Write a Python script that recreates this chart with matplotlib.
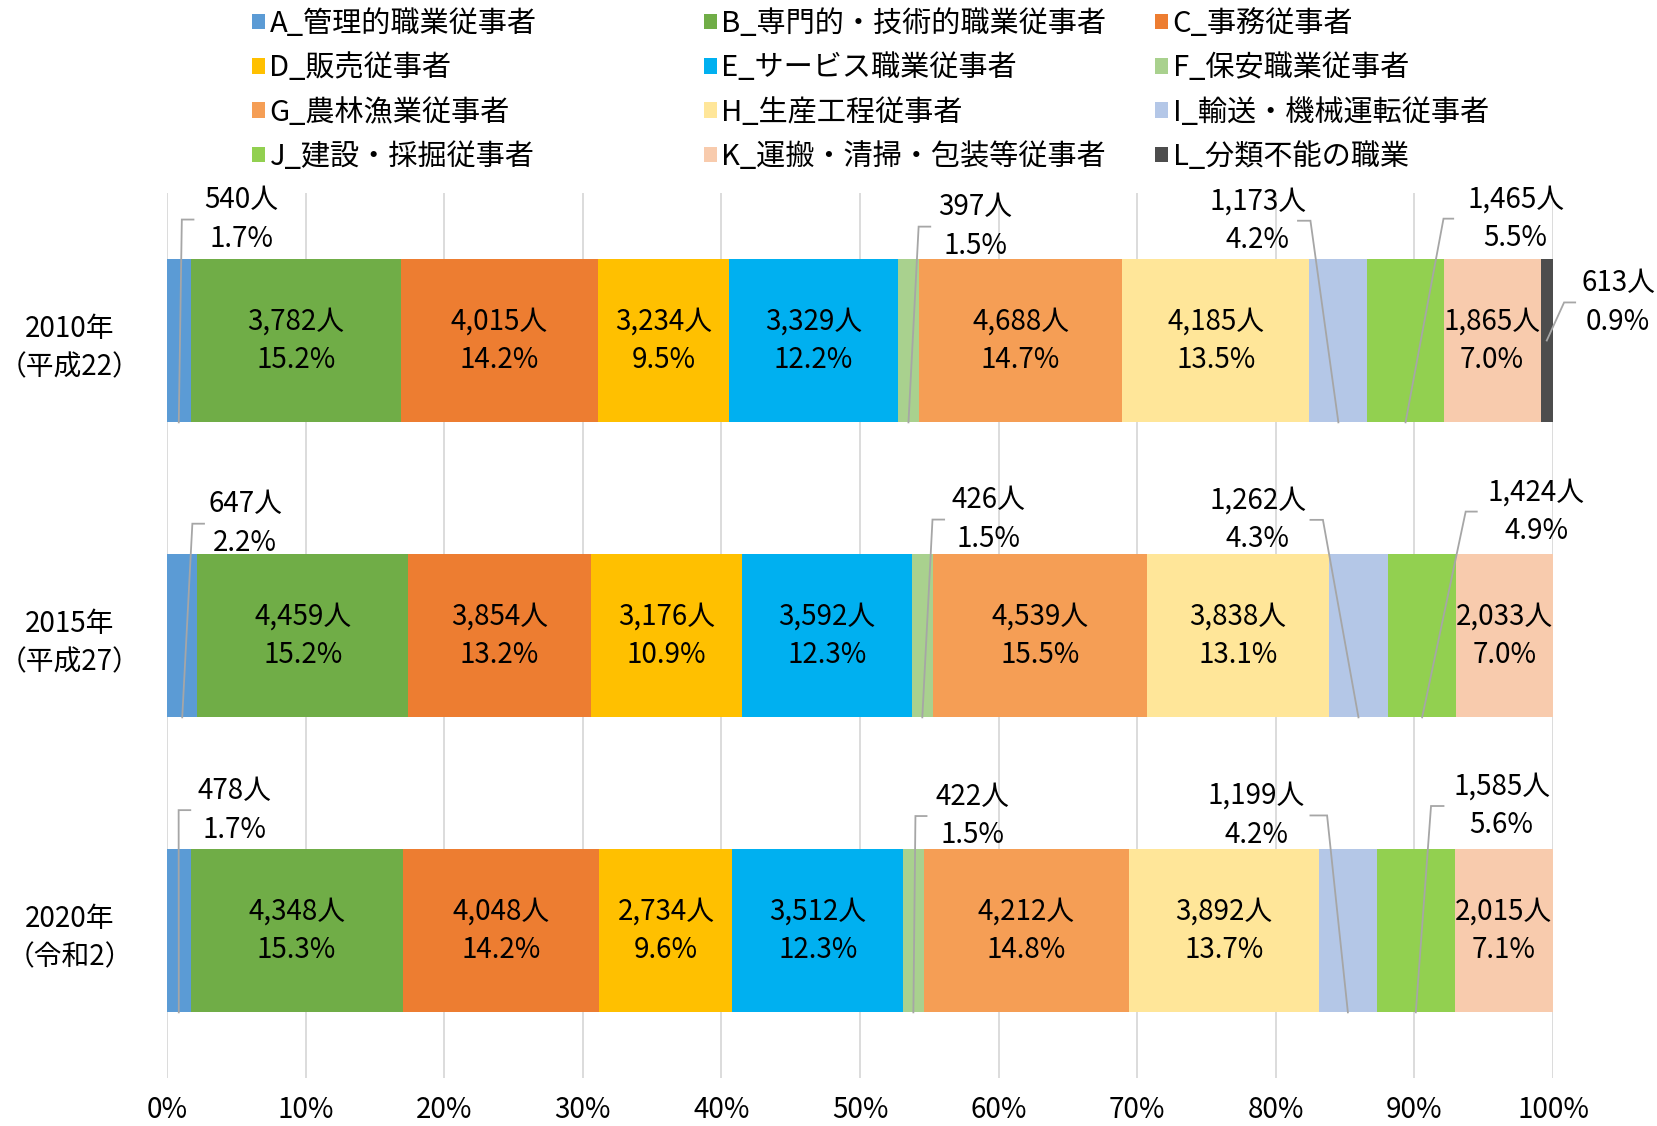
import matplotlib
matplotlib.use('Agg')
import matplotlib.pyplot as plt
from matplotlib.patches import Patch
import numpy as np

plt.rcParams['font.family'] = ['Noto Sans CJK JP', 'DejaVu Sans']

years = ['2010年\n（平成22）', '2015年\n（平成27）', '2020年\n（令和2）']
categories = ['A_管理的職業従事者', 'B_専門的・技術的職業従事者', 'C_事務従事者',
              'D_販売従事者', 'E_サービス職業従事者', 'F_保安職業従事者',
              'G_農林漁業従事者', 'H_生産工程従事者', 'I_輸送・機械運転従事者',
              'J_建設・採掘従事者', 'K_運搬・清掃・包装等従事者', 'L_分類不能の職業']
colors = ['#5B9BD5', '#70AD47', '#ED7D31', '#FFC000', '#00B0F0', '#A9D18E',
          '#F59E55', '#FFE699', '#B4C7E7', '#92D050', '#F8CBAD', '#4D4D4D']

share_2010 = [1.7, 15.2, 14.2, 9.5, 12.2, 1.5, 14.7, 13.5, 4.2, 5.5, 7.0, 0.9]
share_2015 = [2.2, 15.2, 13.2, 10.9, 12.3, 1.5, 15.5, 13.1, 4.3, 4.9, 7.0, 0.0]
share_2020 = [1.7, 15.3, 14.2, 9.6, 12.3, 1.5, 14.8, 13.7, 4.2, 5.6, 7.1, 0.0]
count_2010 = [540, 3782, 4015, 3234, 3329, 397, 4688, 4185, 1173, 1465, 1865, 613]
count_2015 = [647, 4459, 3854, 3176, 3592, 426, 4539, 3838, 1262, 1424, 2033, 0]
count_2020 = [478, 4348, 4048, 2734, 3512, 422, 4212, 3892, 1199, 1585, 2015, 0]

shares = [share_2010, share_2015, share_2020]
counts = [count_2010, count_2015, count_2020]

# indices of categories whose labels sit inside the bar
inside = {1, 2, 3, 4, 6, 7, 10}
# layout of outside labels: (row, cat) -> (label x %, label dy, stub near x, stub far x, end at centre?)
outside_layout = {
    (0, 0): (5.34, -0.41, 1.91, 1.07, False),
    (0, 5): (58.3, -0.386, 55.07, 54.23, False),
    (0, 8): (78.7, -0.406, 81.6, 82.5, False),
    (0, 9): (97.3, -0.413, 92.8, 92.1, False),
    (0, 11): (104.7, -0.129, 101.6, 100.8, True),
    (1, 0): (5.64, -0.379, 2.67, 1.83, False),
    (1, 5): (59.3, -0.393, 56.07, 55.23, False),
    (1, 8): (78.7, -0.392, 82.5, 83.4, False),
    (1, 9): (98.8, -0.42, 94.5, 93.7, False),
    (2, 0): (4.9, -0.408, 1.68, 0.84, False),
    (2, 5): (58.1, -0.388, 54.8, 54.0, False),
    (2, 8): (78.6, -0.39, 82.5, 83.7, False),
    (2, 9): (96.3, -0.422, 92.1, 91.2, False),
}

W, H = 16.57, 11.26
fig = plt.figure(figsize=(W, H), dpi=100)
ax = fig.add_axes([167 / 1657, 1 - 1078 / 1126, (1553 - 167) / 1657, (1078 - 193) / 1126])

bar_h = 0.555
FS = 20
LS = 1.38
y = np.arange(len(years))
lefts = np.zeros(len(years))
norm = [np.array(s) / np.sum(s) * 100 for s in shares]
for j, cat in enumerate(categories):
    widths = np.array([norm[r][j] for r in range(len(years))])
    ax.barh(y, widths, left=lefts, height=bar_h, color=colors[j],
            label=cat, zorder=2, linewidth=0)
    for r in range(len(years)):
        if counts[r][j] == 0:
            continue
        cx = lefts[r] + widths[r] / 2
        txt = f"{counts[r][j]:,}人\n{shares[r][j]:.1f}%"
        if j in inside:
            ax.text(cx, y[r], txt, ha='center', va='center', fontsize=FS,
                    linespacing=LS, zorder=4)
        else:
            lx, dy, sn, sf, at_c = outside_layout[(r, j)]
            ly = y[r] + dy
            ey = y[r] if at_c else y[r] + bar_h / 2
            ax.text(lx, ly, txt, ha='center', va='center', fontsize=FS,
                    linespacing=LS, zorder=4, clip_on=False)
            ax.plot([sn, sf, cx], [ly, ly, ey], color='#A6A6A6', lw=1.3,
                    zorder=3, clip_on=False, solid_joinstyle='miter')
    lefts = lefts + widths

ax.set_xlim(0, 100)
ax.set_ylim(2.5, -0.5)
ax.set_xticks(np.arange(0, 101, 10))
ax.set_xticklabels([f"{v}%" for v in range(0, 101, 10)], fontsize=FS)
ax.set_yticks(y)
ax.set_yticklabels(years, fontsize=FS, ha='center', multialignment='center',
                   linespacing=LS)
ax.tick_params(axis='x', length=0, pad=12)
ax.tick_params(axis='y', length=0, pad=70)
ax.grid(axis='x', color='#D9D9D9', lw=1.3, zorder=0)
ax.set_axisbelow(True)
for s in ax.spines.values():
    s.set_visible(False)

# legend in three columns, row-major order
col_x = [252, 704, 1155]
for c in range(3):
    hs = [Patch(facecolor=colors[k], edgecolor='none') for k in range(c, 12, 3)]
    ls = [categories[k] for k in range(c, 12, 3)]
    fig.legend(hs, ls, loc='upper left', bbox_to_anchor=(col_x[c] / 1657, 1 - 9 / 1126),
               frameon=False, fontsize=21, handlelength=0.45, handleheight=0.45,
               handletextpad=0.15, labelspacing=0.49, borderpad=0, borderaxespad=0)

fig.savefig('out.png', dpi=100)
